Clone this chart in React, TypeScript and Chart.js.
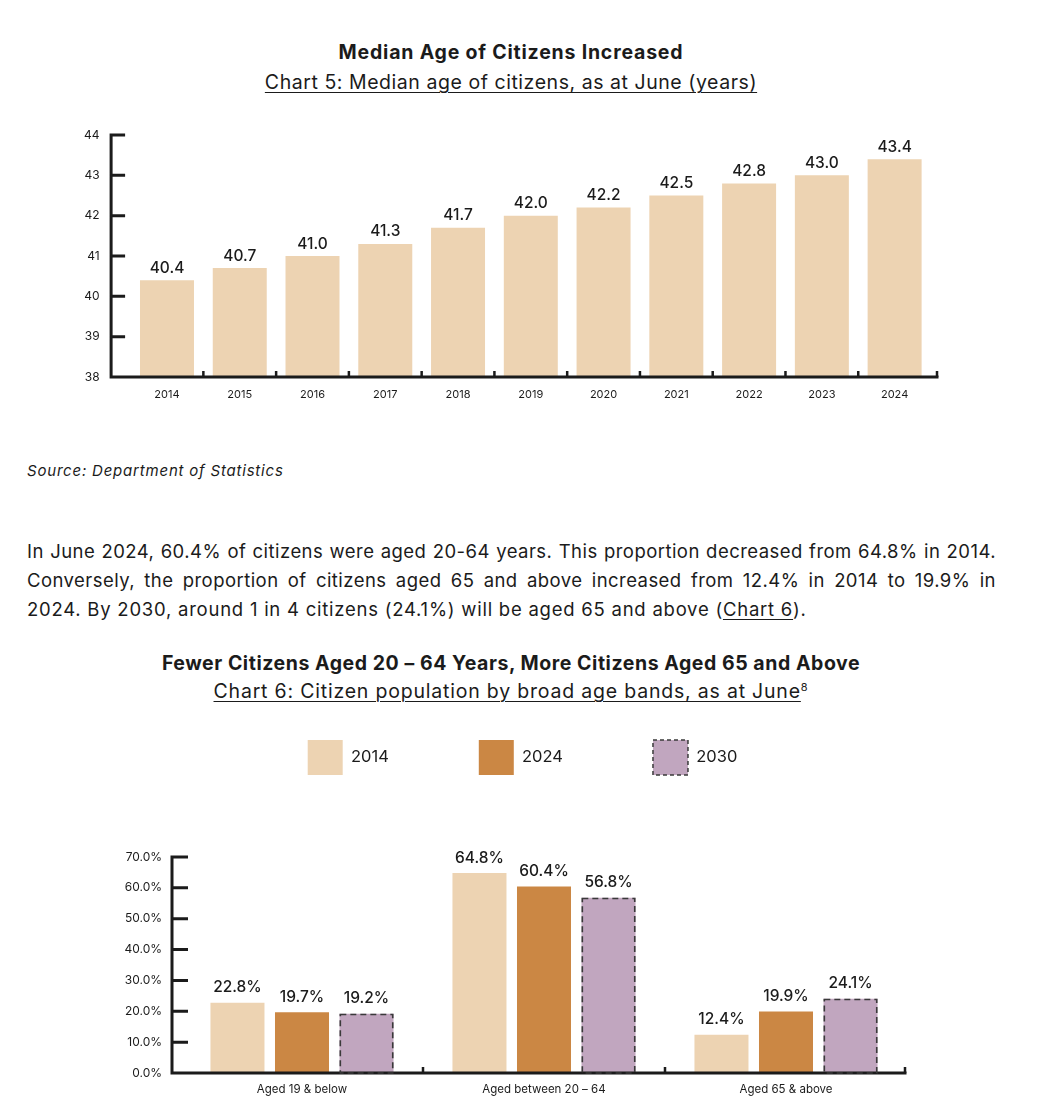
import React, { useEffect, useRef } from 'react';
import { Chart, registerables } from 'chart.js';

Chart.register(...registerables);

// ---------- Data ----------
const years = ['2014', '2015', '2016', '2017', '2018', '2019', '2020', '2021', '2022', '2023', '2024'];
const medianAge = [40.4, 40.7, 41.0, 41.3, 41.7, 42.0, 42.2, 42.5, 42.8, 43.0, 43.4];
const ageAxisMin = 38;
const ageAxisMax = 44;

const ageBands = ['Aged 19 & below', 'Aged between 20 – 64', 'Aged 65 & above'];
const bandSeries = ['2014', '2024', '2030'];
const share2014 = [22.8, 64.8, 12.4];
const share2024 = [19.7, 60.4, 19.9];
const share2030 = [19.2, 56.8, 24.1];
const shareAxisMax = 70;

// ---------- Styles ----------
const FONT = 'Inter, "Noto Sans", sans-serif';
const INK = '#1b1b1b';
const BEIGE = '#EDD3B2';
const ORANGE = '#CB8744';
const MAUVE = '#C1A6BF';

// Custom axes: y line offset left of plot area, inward ticks, x-axis with boundary ticks
const customAxes = {
  id: 'customAxes',
  afterDatasetsDraw(chart: any, _args: any, opts: any) {
    const { ctx, chartArea } = chart;
    const xs = chart.scales.x;
    const ys = chart.scales.y;
    const axisX = chartArea.left - opts.gap;
    const endX = chartArea.right + opts.extend;
    ctx.save();
    ctx.strokeStyle = INK;
    ctx.lineWidth = 3;
    ctx.lineCap = 'butt';
    ctx.beginPath();
    ctx.moveTo(axisX, ys.top - 1.5);
    ctx.lineTo(axisX, ys.bottom);
    ys.ticks.forEach((_t: any, i: number) => {
      const py = ys.getPixelForTick(i);
      ctx.moveTo(axisX, py);
      ctx.lineTo(axisX + opts.tickLen, py);
    });
    ctx.moveTo(axisX - 1.5, ys.bottom);
    ctx.lineTo(endX + 1.5, ys.bottom);
    ctx.stroke();
    ctx.lineWidth = 2.5;
    ctx.beginPath();
    const n = xs.ticks.length;
    for (let i = 1; i < n; i++) {
      const px = (xs.getPixelForTick(i - 1) + xs.getPixelForTick(i)) / 2;
      ctx.moveTo(px, ys.bottom);
      ctx.lineTo(px, ys.bottom - opts.xTickLen);
    }
    ctx.moveTo(endX, ys.bottom);
    ctx.lineTo(endX, ys.bottom - opts.xTickLen);
    ctx.stroke();
    ctx.restore();
  },
};

// Dashed outline for flagged datasets + value labels above bars
const barDecor = {
  id: 'barDecor',
  afterDatasetsDraw(chart: any, _args: any, opts: any) {
    const { ctx } = chart;
    ctx.save();
    chart.data.datasets.forEach((ds: any, di: number) => {
      const meta = chart.getDatasetMeta(di);
      meta.data.forEach((el: any, i: number) => {
        const p = el.getProps(['x', 'y', 'base', 'width'], true);
        if (ds.dashed) {
          ctx.save();
          ctx.setLineDash([6, 4]);
          ctx.lineWidth = 1.6;
          ctx.strokeStyle = '#3a3a3a';
          ctx.strokeRect(p.x - p.width / 2 + 0.8, p.y + 0.8, p.width - 1.6, p.base - p.y - 0.8);
          ctx.restore();
        }
        const v = ds.data[i];
        ctx.fillStyle = INK;
        ctx.font = `500 ${opts.size}px ${FONT}`;
        ctx.textAlign = 'center';
        ctx.textBaseline = 'alphabetic';
        ctx.fillText(v.toFixed(1) + (opts.suffix || ''), p.x, p.y - opts.offset);
      });
    });
    ctx.restore();
  },
};

// Fix legend height and horizontal placement
const legendPlace = {
  id: 'legendPlace',
  beforeLayout(chart: any, _args: any, opts: any) {
    const lg = chart.legend;
    if (lg && !lg._patchedFit) {
      const f = lg.fit;
      lg.fit = function () {
        f.call(this);
        this.height = opts.height;
      };
      lg._patchedFit = true;
    }
  },
  afterLayout(chart: any, _args: any, opts: any) {
    const lg = chart.legend;
    if (lg) {
      lg.left += opts.shift;
      lg.right += opts.shift;
    }
  },
};

function MedianAgeChart() {
  const ref = useRef<HTMLCanvasElement | null>(null);
  useEffect(() => {
    if (!ref.current) return;
    const chart = new Chart(ref.current, {
      type: 'bar',
      data: {
        labels: years,
        datasets: [
          {
            label: 'Median age',
            data: medianAge,
            backgroundColor: BEIGE,
            borderWidth: 0,
            barPercentage: 0.742,
            categoryPercentage: 1,
          },
        ],
      },
      options: {
        animation: false,
        responsive: true,
        maintainAspectRatio: false,
        layout: { padding: { top: 15, left: 0, right: 107, bottom: 0 } },
        plugins: {
          legend: { display: false },
          tooltip: { enabled: false },
          customAxes: { gap: 19.5, extend: 6, tickLen: 14, xTickLen: 6 },
          barDecor: { size: 15.5, offset: 7.5, suffix: '' },
        } as any,
        scales: {
          x: {
            grid: { display: false, drawTicks: false },
            border: { display: false },
            ticks: { color: INK, font: { family: FONT, size: 11 }, padding: 11 },
            afterFit: (s: any) => {
              s.height = 33;
            },
          },
          y: {
            min: ageAxisMin,
            max: ageAxisMax,
            grid: { display: false, drawTicks: false },
            border: { display: false },
            ticks: { stepSize: 1, color: INK, font: { family: FONT, size: 12 }, padding: 31 },
            afterFit: (s: any) => {
              s.width = 130.6;
              s.paddingTop = 8;
              s.paddingBottom = 8;
            },
          },
        },
      },
      plugins: [customAxes, barDecor],
    });
    return () => chart.destroy();
  }, []);
  return (
    <div style={{ position: 'absolute', left: 0, top: 120, width: 1038, height: 290 }}>
      <canvas ref={ref} />
    </div>
  );
}

function AgeBandChart() {
  const ref = useRef<HTMLCanvasElement | null>(null);
  useEffect(() => {
    if (!ref.current) return;
    const chart = new Chart(ref.current, {
      type: 'bar',
      data: {
        labels: ageBands,
        datasets: [
          { label: bandSeries[0], data: share2014, backgroundColor: BEIGE, borderWidth: 0 },
          { label: bandSeries[1], data: share2024, backgroundColor: ORANGE, borderWidth: 0 },
          { label: bandSeries[2], data: share2030, backgroundColor: MAUVE, borderWidth: 0, dashed: true } as any,
        ],
      },
      options: {
        animation: false,
        responsive: true,
        maintainAspectRatio: false,
        datasets: { bar: { barPercentage: 0.837, categoryPercentage: 0.8 } },
        layout: { padding: { top: 0, left: 60, right: 131, bottom: 0 } },
        plugins: {
          legend: {
            display: true,
            position: 'top',
            align: 'center',
            labels: {
              boxWidth: 35,
              boxHeight: 35,
              padding: 90,
              color: INK,
              font: { family: FONT, size: 16.5 },
              generateLabels: (c: any) => {
                const items = (Chart.defaults.plugins.legend.labels as any).generateLabels(c);
                items.forEach((it: any, i: number) => {
                  const ds: any = c.data.datasets[i];
                  if (ds.dashed) {
                    it.lineDash = [4, 3];
                    it.lineWidth = 1.5;
                    it.strokeStyle = '#3a3a3a';
                  } else {
                    it.lineWidth = 0;
                  }
                });
                return items;
              },
            },
          },
          tooltip: { enabled: false },
          legendPlace: { height: 207, shift: 39 },
          customAxes: { gap: 9, extend: -2, tickLen: 16, xTickLen: 6 },
          barDecor: { size: 15.5, offset: 10.5, suffix: '%' },
        } as any,
        scales: {
          x: {
            grid: { display: false, drawTicks: false },
            border: { display: false },
            ticks: { color: INK, font: { family: FONT, size: 11.5 }, padding: 10 },
            afterFit: (s: any) => {
              s.height = 37;
            },
          },
          y: {
            min: 0,
            max: shareAxisMax,
            grid: { display: false, drawTicks: false },
            border: { display: false },
            ticks: {
              stepSize: 10,
              color: INK,
              font: { family: FONT, size: 12 },
              padding: 19,
              callback: (v: any) => Number(v).toFixed(1) + '%',
            },
            afterFit: (s: any) => {
              s.width = 121;
              s.paddingTop = 8;
              s.paddingBottom = 8;
            },
          },
        },
      },
      plugins: [legendPlace, customAxes, barDecor],
    });
    return () => chart.destroy();
  }, []);
  return (
    <div style={{ position: 'absolute', left: 0, top: 650, width: 1038, height: 460 }}>
      <canvas ref={ref} />
    </div>
  );
}

function Line(props: { top: number; h: number; children: any; style?: any }) {
  return (
    <div
      style={{
        position: 'absolute',
        top: props.top - props.h / 2,
        height: props.h,
        lineHeight: props.h + 'px',
        whiteSpace: 'nowrap',
        letterSpacing: '0.8px',
        ...props.style,
      }}
    >
      {props.children}
    </div>
  );
}

export default function App() {
  const centered = { left: 11, width: 1000, textAlign: 'center' as const };
  const para = { left: 27, width: 969, fontSize: 18.5, letterSpacing: '0.45px' };
  const ul = { textDecoration: 'underline', textUnderlineOffset: 3, textDecorationThickness: 1 };
  return (
    <div
      style={{
        position: 'absolute',
        left: 0,
        top: 0,
        width: 1038,
        height: 1120,
        background: '#fff',
        fontFamily: FONT,
        color: INK,
        overflow: 'hidden',
      }}
    >
      <Line top={52} h={26} style={{ ...centered, fontWeight: 700, fontSize: 19.5 }}>
        Median Age of Citizens Increased
      </Line>
      <Line top={82} h={26} style={{ ...centered, fontSize: 19.5, letterSpacing: '0.55px' }}>
        <span style={ul}>Chart 5: Median age of citizens, as at June (years)</span>
      </Line>
      <MedianAgeChart />
      <Line top={471} h={22} style={{ left: 27, fontSize: 15, fontStyle: 'italic' }}>
        Source: Department of Statistics
      </Line>
      <Line top={551} h={28} style={{ ...para, textAlign: 'justify', textAlignLast: 'justify' }}>
        In June 2024, 60.4% of citizens were aged 20-64 years. This proportion decreased from 64.8% in 2014.
      </Line>
      <Line top={580} h={28} style={{ ...para, textAlign: 'justify', textAlignLast: 'justify' }}>
        Conversely, the proportion of citizens aged 65 and above increased from 12.4% in 2014 to 19.9% in
      </Line>
      <Line top={609} h={28} style={{ ...para, letterSpacing: '0.76px' }}>
        2024. By 2030, around 1 in 4 citizens (24.1%) will be aged 65 and above (<span style={ul}>Chart 6</span>).
      </Line>
      <Line top={663} h={26} style={{ ...centered, fontWeight: 700, fontSize: 19.5, letterSpacing: '0.55px' }}>
        Fewer Citizens Aged 20 – 64 Years, More Citizens Aged 65 and Above
      </Line>
      <Line top={691} h={26} style={{ ...centered, fontSize: 19.5 }}>
        <span style={ul}>Chart 6: Citizen population by broad age bands, as at June</span>
        <sup style={{ fontSize: 11, lineHeight: 0, verticalAlign: 'super' }}>8</sup>
      </Line>
      <AgeBandChart />
    </div>
  );
}
